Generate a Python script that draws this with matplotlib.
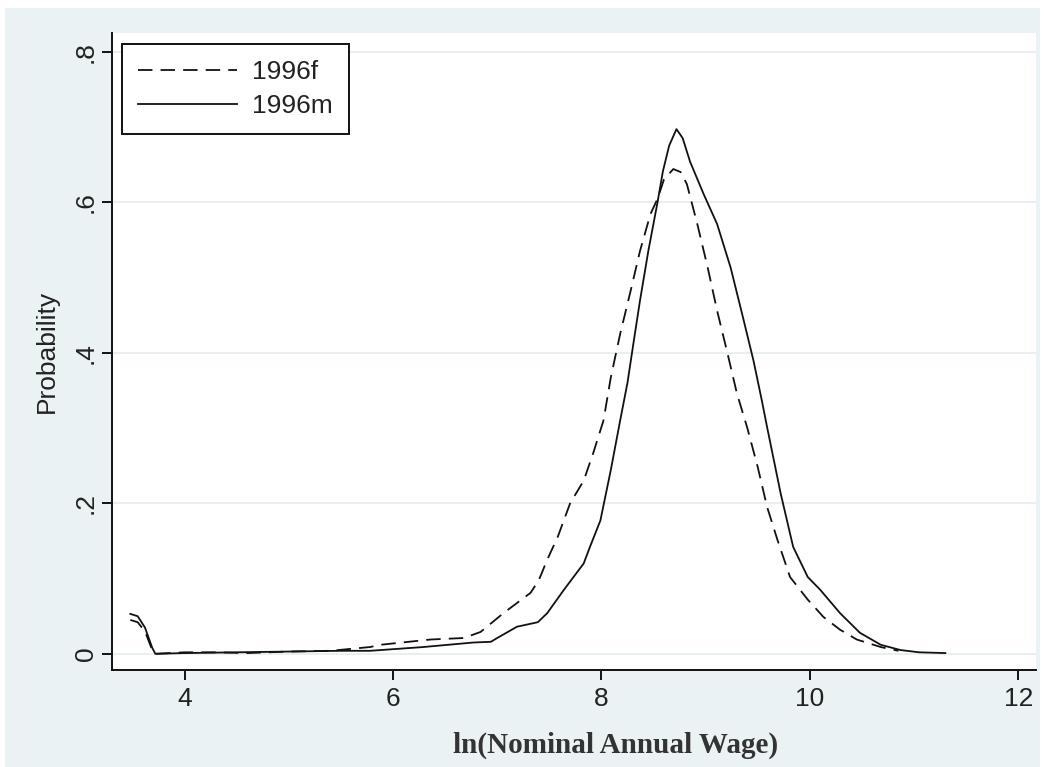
import matplotlib
matplotlib.use("Agg")
import matplotlib.pyplot as plt
from matplotlib.patches import Rectangle

# ---- data ----
x_f = [3.48, 3.55, 3.62, 3.69, 3.72, 4.0, 4.3, 4.6, 5.0, 5.4, 5.78, 5.88, 6.36, 6.68,
       6.84, 7.06, 7.32, 7.40, 7.48, 7.58, 7.70, 7.83, 7.92, 8.02, 8.09, 8.18, 8.28,
       8.37, 8.47, 8.54, 8.60, 8.69, 8.76, 8.82, 8.92, 9.02, 9.11, 9.21, 9.30, 9.40,
       9.50, 9.59, 9.69, 9.81, 9.98, 10.13, 10.29, 10.45, 10.68, 10.85]
y_f = [0.045, 0.042, 0.030, 0.005, 0.0, 0.002, 0.002, 0.001, 0.003, 0.004, 0.009, 0.012,
       0.019, 0.021, 0.029, 0.054, 0.081, 0.098, 0.125, 0.155, 0.200, 0.230, 0.266,
       0.310, 0.367, 0.425, 0.482, 0.535, 0.584, 0.605, 0.630, 0.644, 0.640, 0.624,
       0.571, 0.513, 0.456, 0.399, 0.346, 0.300, 0.248, 0.195, 0.151, 0.102, 0.072,
       0.049, 0.032, 0.019, 0.009, 0.004]

x_m = [3.48, 3.55, 3.62, 3.69, 3.72, 4.0, 4.5, 5.0, 5.5, 5.78, 6.29, 6.77, 6.94, 7.0,
       7.19, 7.39, 7.48, 7.64, 7.83, 7.89, 7.99, 8.09, 8.18, 8.25, 8.31, 8.37, 8.45,
       8.54, 8.59, 8.65, 8.72, 8.78, 8.85, 8.98, 9.11, 9.24, 9.36, 9.46, 9.54, 9.59,
       9.72, 9.84, 9.98, 10.10, 10.29, 10.48, 10.68, 10.87, 11.05, 11.30]
y_m = [0.053, 0.050, 0.035, 0.008, 0.0, 0.001, 0.002, 0.003, 0.004, 0.004, 0.009, 0.015,
       0.016, 0.021, 0.036, 0.042, 0.054, 0.085, 0.120, 0.142, 0.177, 0.244, 0.310,
       0.360, 0.415, 0.469, 0.535, 0.601, 0.641, 0.675, 0.697, 0.685, 0.654, 0.611,
       0.571, 0.513, 0.446, 0.389, 0.336, 0.301, 0.213, 0.142, 0.102, 0.085, 0.054,
       0.028, 0.012, 0.005, 0.002, 0.001]

labels = ["1996f", "1996m"]
x_ticks = [4, 6, 8, 10, 12]
y_ticks = [0, 0.2, 0.4, 0.6, 0.8]
y_ticklabels = ["0", ".2", ".4", ".6", ".8"]

# ---- figure ----
W, H = 1048, 767
fig = plt.figure(figsize=(W / 100, H / 100), dpi=100, facecolor="white")
bg = "#eaf2f3"
fig.patches.append(Rectangle((5 / W, 0), (1040 - 5) / W, (H - 8) / H,
                             transform=fig.transFigure, facecolor=bg,
                             edgecolor="none", zorder=-10))

L, R, T, B = 112, 1036, 33, 670
ax = fig.add_axes([L / W, 1 - B / H, (R - L) / W, (B - T) / H])
ax.set_facecolor("white")

sans = ["Liberation Sans", "DejaVu Sans"]
fs = 19

line_f, = ax.plot(x_f, y_f, color="#111111", lw=1.3, dashes=(8, 4.5), label=labels[0])
line_m, = ax.plot(x_m, y_m, color="#111111", lw=1.3, label=labels[1])

ax.set_xlim(3.304, 12.17)
ax.set_ylim(-0.0215, 0.8247)

for s in ["top", "right"]:
    ax.spines[s].set_visible(False)
for s in ["left", "bottom"]:
    ax.spines[s].set_linewidth(1.4)
    ax.spines[s].set_color("#111111")

ax.set_yticks(y_ticks)
ax.set_yticklabels(y_ticklabels, rotation=90, va="center", family=sans, fontsize=fs,
                   color="#222222")
ax.set_xticks(x_ticks)
ax.set_xticklabels([str(v) for v in x_ticks], family=sans, fontsize=fs, color="#222222")
ax.tick_params(axis="both", direction="out", length=7, width=1.4, color="#111111")
ax.tick_params(axis="y", pad=3)
ax.tick_params(axis="x", pad=5)

ax.grid(axis="y", color="#e6eeee", lw=1.3)
ax.set_axisbelow(True)

leg = ax.legend(handles=[line_f, line_m], labels=labels, loc="upper left",
                bbox_to_anchor=((122 - L) / (R - L), (B - 44) / (B - T)),
                borderaxespad=0, frameon=True, fancybox=False, edgecolor="#111111",
                facecolor="white", framealpha=1, handlelength=3.75, handletextpad=0.55,
                labelspacing=0.36, borderpad=0.62, prop={"family": sans, "size": fs})
leg.get_frame().set_linewidth(1.4)
for t in leg.get_texts():
    t.set_color("#222222")

fig.text(47 / W, 1 - 351 / H, "Probability", rotation=90, ha="center", va="center",
         family=sans, fontsize=fs, color="#222222")
fig.text(616 / W, 1 - 745 / H, "ln(Nominal Annual Wage)", ha="center", va="center",
         family=["Liberation Serif", "DejaVu Serif"], fontweight="bold", fontsize=21,
         color="#333333")

fig.savefig("out.png", dpi=100, facecolor=fig.get_facecolor())
